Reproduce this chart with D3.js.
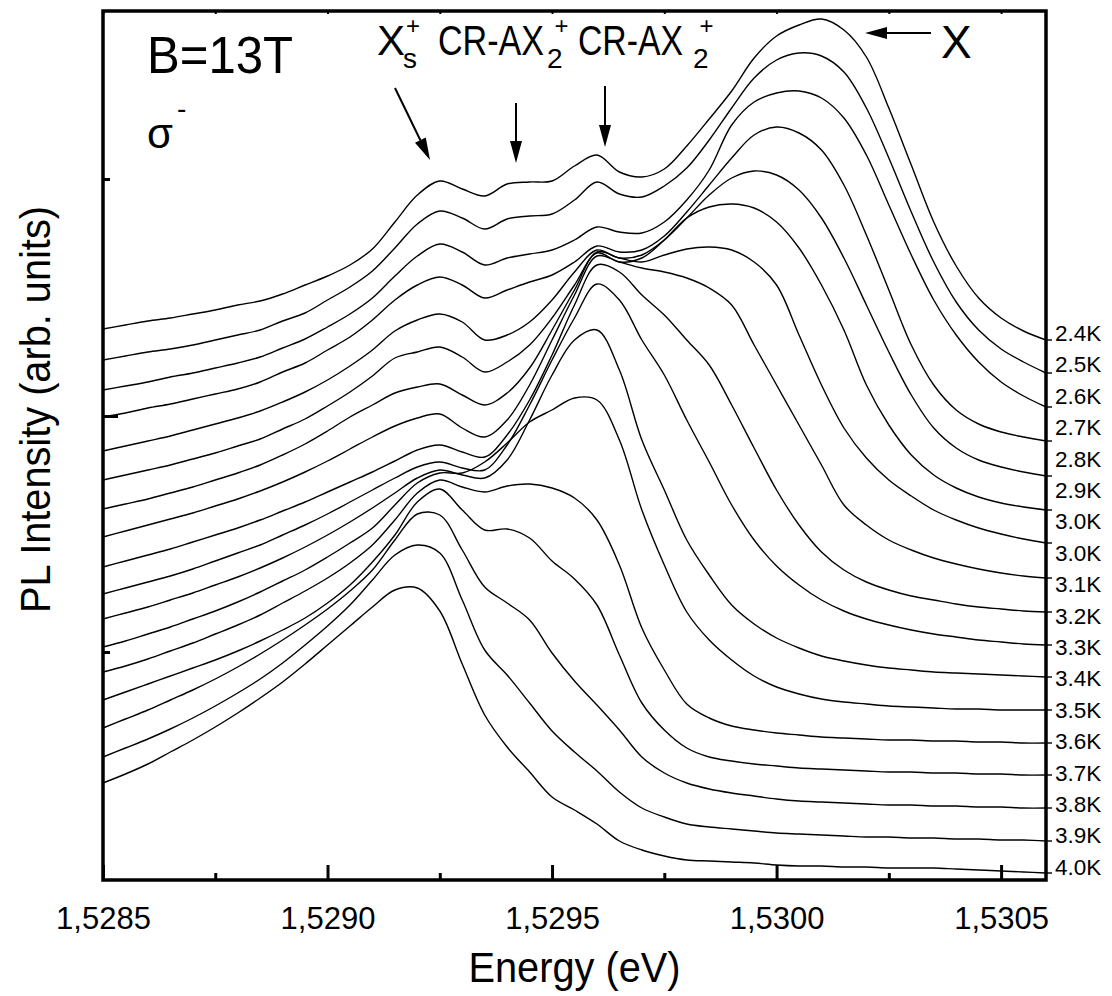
<!DOCTYPE html>
<html>
<head>
<meta charset="utf-8">
<script src="https://d3js.org/d3.v7.min.js"></script>
<style>
  body { margin: 0; background: #fff; }
  svg { display: block; }
  text { font-family: "Liberation Sans", Arial, sans-serif; fill: #000; }
</style>
</head>
<body>
<script>
// photon energy grid (eV)
var energy = [1.52850, 1.52855, 1.52860, 1.52865, 1.52870, 1.52875, 1.52880, 1.52885, 1.52890, 1.52895,
              1.52900, 1.52905, 1.52910, 1.52915, 1.52920, 1.52925, 1.52930, 1.52935, 1.52940, 1.52945,
              1.52950, 1.52955, 1.52960, 1.52965, 1.52970, 1.52975, 1.52980, 1.52985, 1.52990, 1.52995,
              1.53000, 1.53005, 1.53010, 1.53015, 1.53020, 1.53025, 1.53030, 1.53035, 1.53040, 1.53045,
              1.53050, 1.53055, 1.53060];

// PL spectra, vertically offset (arb. units), top to bottom
var pl24 = [551, 555, 559, 562, 566, 570, 575, 579, 586, 595, 604, 615, 631, 658, 685, 699, 691, 684, 696, 698, 699, 714, 725, 708, 703, 711, 734, 761, 789, 822, 844, 855, 861, 850, 823, 772, 715, 658, 614, 582, 562, 549, 540];
var pl25 = [520, 524, 528, 531, 535, 540, 545, 550, 559, 567, 580, 593, 609, 632, 656, 669, 662, 651, 661, 664, 666, 680, 698, 686, 683, 694, 712, 740, 772, 802, 820, 827, 824, 808, 772, 722, 668, 618, 578, 550, 531, 518, 507];
var pl26 = [490, 494, 498, 503, 507, 512, 517, 523, 532, 541, 553, 566, 582, 604, 624, 636, 628, 615, 622, 626, 630, 640, 653, 648, 647, 658, 680, 710, 755, 778, 787, 789, 782, 762, 725, 675, 625, 580, 545, 518, 498, 484, 473];
var pl27 = [463, 467, 472, 476, 481, 486, 491, 498, 508, 517, 530, 543, 560, 580, 595, 603, 595, 582, 590, 598, 605, 618, 634, 628, 630, 644, 668, 695, 722, 745, 753, 747, 730, 695, 645, 590, 535, 495, 470, 456, 448, 443, 439];
var pl28 = [429, 434, 439, 444, 450, 456, 462, 469, 478, 488, 500, 514, 530, 549, 560, 566, 558, 540, 545, 558, 580, 608, 630, 622, 625, 640, 662, 685, 702, 709, 705, 690, 662, 622, 575, 528, 485, 452, 432, 420, 413, 408, 404];
var pl29 = [400, 405, 410, 415, 421, 427, 434, 441, 451, 461, 474, 488, 504, 522, 528, 533, 523, 508, 518, 535, 562, 595, 627, 618, 622, 640, 662, 673, 676, 672, 658, 632, 595, 550, 495, 455, 425, 405, 392, 383, 377, 373, 370];
var pl30a = [371, 376, 381, 387, 393, 400, 407, 415, 425, 436, 449, 463, 475, 487, 493, 496, 485, 475, 487, 512, 550, 590, 628, 622, 618, 625, 631, 633, 630, 618, 595, 545, 495, 452, 422, 400, 384, 370, 360, 352, 346, 341, 337];
var pl30b = [343, 349, 355, 361, 367, 374, 381, 389, 398, 408, 419, 431, 443, 454, 462, 466, 452, 443, 460, 495, 540, 585, 624, 618, 612, 608, 602, 592, 575, 535, 495, 455, 415, 375, 355, 340, 330, 322, 316, 311, 307, 304, 302];
var pl31 = [313, 319, 325, 331, 338, 345, 352, 360, 369, 378, 388, 398, 408, 419, 430, 435, 428, 423, 445, 480, 525, 575, 615, 608, 585, 565, 540, 515, 475, 432, 390, 355, 328, 310, 298, 290, 284, 280, 276, 273, 271, 269, 268];
var pl32 = [286, 292, 298, 304, 311, 319, 327, 335, 345, 355, 366, 378, 390, 402, 413, 418, 412, 410, 435, 475, 520, 562, 596, 580, 540, 505, 460, 418, 375, 340, 314, 295, 280, 269, 261, 255, 250, 246, 243, 240, 238, 236, 235];
var pl33 = [261, 267, 273, 280, 287, 295, 303, 312, 322, 333, 345, 358, 372, 387, 402, 410, 405, 402, 420, 460, 505, 540, 550, 510, 440, 390, 340, 305, 275, 256, 242, 232, 224, 219, 215, 212, 210, 208, 207, 206, 205, 204, 203];
var pl34 = [233, 239, 246, 253, 261, 269, 278, 288, 299, 310, 323, 337, 352, 375, 397, 407, 407, 418, 437, 458, 470, 482, 480, 440, 370, 315, 268, 240, 220, 204, 193, 186, 181, 178, 176, 174, 173, 172, 171, 171, 170, 170, 170];
var pl35 = [208, 214, 221, 229, 237, 246, 255, 265, 277, 289, 302, 317, 335, 360, 387, 400, 393, 388, 394, 396, 392, 382, 360, 315, 252, 210, 176, 162, 154, 150, 147, 145, 143, 142, 141, 140, 140, 139, 139, 138, 138, 137, 137];
var pl36 = [180, 188, 196, 204, 212, 220, 229, 239, 250, 262, 277, 295, 318, 345, 378, 391, 370, 350, 351, 342, 319, 301, 275, 225, 177, 150, 132, 123, 119, 116, 114, 112, 111, 110, 109, 108, 108, 107, 107, 106, 106, 105, 105];
var pl37 = [152, 161, 170, 180, 190, 201, 213, 226, 240, 255, 271, 289, 310, 340, 366, 365, 330, 293, 277, 260, 227, 199, 175, 150, 123, 107, 97, 91, 87, 84, 81, 79, 78, 77, 76, 75, 75, 74, 74, 73, 73, 72, 72];
var pl38 = [123, 132, 141, 151, 162, 174, 187, 201, 217, 235, 254, 275, 300, 325, 335, 327, 280, 230, 205, 177, 149, 128, 109, 88, 72, 63, 56, 53, 51, 49, 47, 46, 45, 44, 43, 43, 42, 42, 41, 41, 40, 40, 39];
var pl40 = [97, 106, 116, 128, 140, 153, 167, 182, 198, 216, 235, 254, 273, 290, 292, 269, 216, 165, 133, 108, 83, 70, 56, 39, 30, 24, 20, 19, 18, 17, 15, 14, 14, 13, 13, 12, 12, 12, 11, 10, 9, 8, 7];

var spectra = [pl24, pl25, pl26, pl27, pl28, pl29, pl30a, pl30b, pl31, pl32, pl33, pl34, pl35, pl36, pl37, pl38, pl40];

var tempLabels = ["2.4K", "2.5K", "2.6K", "2.7K", "2.8K", "2.9K", "3.0K", "3.0K", "3.1K", "3.2K",
                  "3.3K", "3.4K", "3.5K", "3.6K", "3.7K", "3.8K", "3.9K", "4.0K"];

var xMajor = [1.5285, 1.5290, 1.5295, 1.5300, 1.5305];
var xMinor = [1.52875, 1.52925, 1.52975, 1.53025];
var yMajor = [464];
var yMinor = [228, 701];

var W = 1112, H = 996;
var pLeft = 103, pRight = 1046, pTop = 11, pBottom = 880;

var x = d3.scaleLinear().domain([1.5285, 1.5306]).range([pLeft, pRight]);
var y = d3.scaleLinear().domain([0, 870]).range([pBottom, 10]);

var svg = d3.select("body").append("svg")
    .attr("width", W)
    .attr("height", H);

// spectra
var line = d3.line()
    .x(function(d, i) { return x(energy[i]); })
    .y(function(d) { return y(d); })
    .curve(d3.curveCatmullRom.alpha(0.5));

svg.append("g")
  .selectAll("path")
  .data(spectra)
  .enter().append("path")
    .attr("d", line)
    .attr("fill", "none")
    .attr("stroke", "#000")
    .attr("stroke-width", 1.4);

// little stubs where each spectrum leaves the frame
svg.append("g")
  .selectAll("line")
  .data(spectra)
  .enter().append("line")
    .attr("x1", x(energy[energy.length - 1]))
    .attr("x2", x(energy[energy.length - 1]) + 6)
    .attr("y1", function(d) { return y(d[d.length - 1]); })
    .attr("y2", function(d) { return y(d[d.length - 1]); })
    .attr("stroke", "#000")
    .attr("stroke-width", 1.4);

// axes (ticks inward)
function noLabels(g) { g.select(".domain").remove(); g.selectAll("text").remove(); }

svg.append("g")
    .attr("transform", "translate(0," + pBottom + ")")
    .call(d3.axisBottom(x).tickValues(xMajor).tickSize(-15).tickPadding(27)
      .tickFormat(function(d) { return d3.format(".4f")(d).replace(".", ","); }))
    .call(function(g) {
      g.select(".domain").remove();
      g.selectAll("line").attr("stroke-width", 3);
      g.selectAll("text").attr("font-size", 31).attr("font-family", "Liberation Sans, Arial, sans-serif");
    });

svg.append("g")
    .attr("transform", "translate(0," + pBottom + ")")
    .call(d3.axisBottom(x).tickValues(xMinor).tickSize(-7))
    .call(noLabels)
    .call(function(g) { g.selectAll("line").attr("stroke-width", 3); });

svg.append("g")
    .attr("transform", "translate(0," + pTop + ")")
    .call(d3.axisTop(x).tickValues(xMajor.concat(xMinor)).tickSize(-3))
    .call(noLabels)
    .call(function(g) { g.selectAll("line").attr("stroke-width", 2); });

svg.append("g")
    .attr("transform", "translate(" + pLeft + ",0)")
    .call(d3.axisLeft(y).tickValues(yMajor).tickSize(-15))
    .call(noLabels)
    .call(function(g) { g.selectAll("line").attr("stroke-width", 3); });

svg.append("g")
    .attr("transform", "translate(" + pLeft + ",0)")
    .call(d3.axisLeft(y).tickValues(yMinor).tickSize(-7))
    .call(noLabels)
    .call(function(g) { g.selectAll("line").attr("stroke-width", 3); });

// frame
svg.append("rect")
    .attr("x", pLeft).attr("y", pTop)
    .attr("width", pRight - pLeft).attr("height", pBottom - pTop)
    .attr("fill", "none")
    .attr("stroke", "#000")
    .attr("stroke-width", 3.5);

// temperature labels on the right
svg.append("g")
  .selectAll("text")
  .data(tempLabels)
  .enter().append("text")
    .attr("x", 1055)
    .attr("y", function(d, i) { return 341 + i * 31.4; })
    .attr("font-size", 22.5)
    .text(function(d) { return d; });

// axis titles
svg.append("text")
    .attr("x", (pLeft + pRight) / 2 - 106)
    .attr("y", 982)
    .attr("font-size", 42)
    .attr("textLength", 212)
    .attr("lengthAdjust", "spacingAndGlyphs")
    .text("Energy (eV)");

svg.append("text")
    .attr("transform", "translate(50,613) rotate(-90)")
    .attr("font-size", 42)
    .attr("textLength", 407)
    .attr("lengthAdjust", "spacingAndGlyphs")
    .text("PL Intensity (arb. units)");

// annotations: main text, then subscript, then superscript stacked above it
function label(o) {
  var t = svg.append("text").attr("x", o.x).attr("y", o.y).attr("font-size", o.size);
  var m = t.append("tspan").text(o.main);
  if (o.len) m.attr("textLength", o.len).attr("lengthAdjust", "spacingAndGlyphs");
  var base = o.y;
  if (o.sub) {
    t.append("tspan").attr("dx", o.subDx).attr("dy", 13).attr("font-size", 28).text(o.sub);
    base = o.y + 13;
  }
  if (o.sup) {
    t.append("tspan").attr("dx", o.supDx).attr("dy", o.supY - base)
      .attr("font-size", o.supSize || 24).text(o.sup);
  }
  return t;
}
label({main: "B=13T", x: 147, y: 73, size: 52, len: 146});
label({main: "\u03c3", sup: "-", x: 147, y: 148, size: 42, supDx: 4, supY: 118, supSize: 28});
label({main: "X", sub: "s", sup: "+", x: 377, y: 55, size: 42, subDx: -2, supDx: -11, supY: 34});
label({main: "CR-AX", sub: "2", sup: "+", x: 438, y: 55, size: 42, len: 106, subDx: 3, supDx: -8, supY: 34});
label({main: "CR-AX", sub: "2", sup: "+", x: 578, y: 55, size: 42, len: 105, subDx: 10, supDx: -9, supY: 34});
label({main: "X", x: 941, y: 58, size: 46});

function arrow(x1, y1, x2, y2) {
  var dx = x2 - x1, dy = y2 - y1, L = Math.sqrt(dx * dx + dy * dy);
  var ux = dx / L, uy = dy / L, hl = 22, hw = 6;
  var bx = x2 - ux * hl, by = y2 - uy * hl;
  svg.append("line")
      .attr("x1", x1).attr("y1", y1).attr("x2", bx).attr("y2", by)
      .attr("stroke", "#000").attr("stroke-width", 2);
  svg.append("path")
      .attr("d", "M" + x2 + "," + y2 +
                 "L" + (bx - uy * hw) + "," + (by + ux * hw) +
                 "L" + (bx + uy * hw) + "," + (by - ux * hw) + "Z")
      .attr("fill", "#000");
}
arrow(395, 88, 430, 160);
arrow(516, 103, 516, 163);
arrow(605, 86, 605, 147);
arrow(931, 33, 865, 33);
</script>
</body>
</html>
